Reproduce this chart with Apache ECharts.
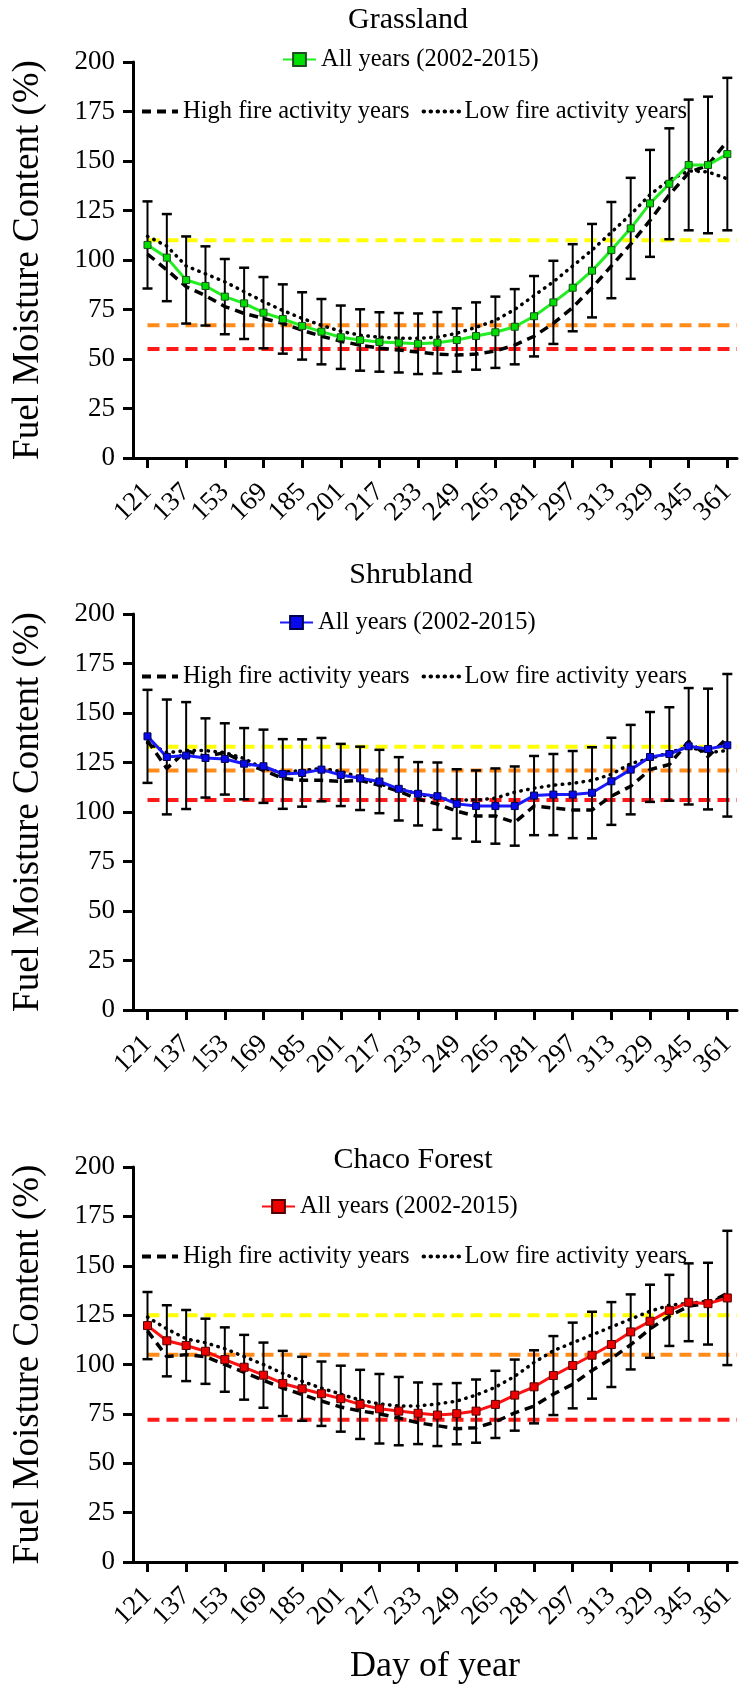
<!DOCTYPE html>
<html><head><meta charset="utf-8">
<script src="https://cdn.jsdelivr.net/npm/echarts@6/dist/echarts.min.js"></script>
<style>html,body{margin:0;padding:0;background:#fff}#c{width:739px;height:1686px}</style>
</head><body><div id="c"></div>
<script>
// ---- data ----
const days = [121,129,137,145,153,161,169,177,185,193,201,209,217,225,233,241,249,257,265,273,281,289,297,305,313,321,329,337,345,353,361];
const tickDays = [121,137,153,169,185,201,217,233,249,265,281,297,313,329,345,361];
const meanLabel = 'All years (2002-2015)';
const highLabel = 'High fire activity years';
const lowLabel = 'Low fire activity years';

const grassMean = [107.6,101.2,89.9,86.9,81.5,78.1,73.4,70.2,66.7,63.8,61.0,59.6,58.6,58.2,57.7,58.2,59.6,61.6,63.5,66.3,71.6,78.6,86.0,94.6,105.0,116.0,128.6,138.5,148.0,148.0,153.5];
const grassSD   = [22,22,22,20,19,18,18,17.5,17,16.5,16,15.5,15,15,15.3,15.5,16,17,18,19,20.3,21,22,23.6,24.3,25.5,27,28,33,34.5,38.5];
const grassHigh = [103,95,86.5,82,76.5,73,70.5,68,64.5,61.5,59,57,55.5,54.5,53.5,52.5,52,52.5,54,57,61.5,68,76,86,97,108,120,133,144,148,160];
const grassLow  = [112,107,97,93,89,84,79,74.5,70.5,67,64,62,61,60.5,60.5,61,63,66,69.5,75,82,89,97,105,114,123,133,140.5,145,144.5,141];
const grassRef  = [110,67,55];

const shrubMean = [138.2,127.8,128.5,127.3,126.8,124.4,123.1,119.2,119.7,121.4,118.7,117.0,115.4,111.7,109.2,108.0,104.1,103.0,103.0,103.0,108.3,108.8,108.8,109.7,115.5,121.4,127.8,129.3,133.2,131.8,133.7];
const shrubSD   = [23.5,29,27,20,18,18,18.5,17.6,17,16,15.7,16,16,16,16,17,17.5,18,19,20,20,20.5,22,23,22,22.6,22.7,23.6,29.4,30.5,36];
const shrubHigh = [136,122,131,128,130,125,121,117,116,116,115.5,116,113.5,110.5,106.5,104,100.4,98,98,94.7,103,102,101,101,108,113,121.4,124,135.7,128,137.5];
const shrubLow  = [135,130,131,131,130,127,122,120,121,122,120.5,117.5,114,112,109,107,106,106,107,110,112,113.5,114.5,116,119,124.5,127,130,133,130,131];
const shrubRef  = [133,121,106];

const chacoMean = [119.7,112.0,109.6,106.7,102.5,98.6,94.6,90.4,87.7,85.2,82.7,79.8,77.6,76.4,75.3,74.4,75.1,76.4,79.8,84.5,88.7,94.4,99.5,104.7,110.1,116.5,121.9,127.4,131.5,130.8,133.7];
const chacoSD   = [17,18,18,16.5,16.3,16.4,16.5,16.5,16.2,16.3,16.7,17.5,17.6,17.3,15.6,15.7,15.5,16,17,18,18.5,20,21.7,22,21.5,19,18.5,18,19.7,20.7,34];
const chacoHigh = [117,104,105,104,100,96,92,88,84.8,81.5,78.5,76.5,75,73,70.5,69,67.5,68,71,75.5,79,85,90,97,103,110,118,124.5,129.5,131,136];
const chacoLow  = [124,118,113,111,108,104,100,95.5,91.5,88,85,82,80,79,79,80,81.5,84.5,88.5,94,101,107,111,115,119,123,127,130,131,132,134];
const chacoRef  = [125,105,72];

// ---- styling / layout ----
const FONT = 'Liberation Serif';
const refColors = ['#ffff00', '#ff8c1a', '#ff1a1a'];
const panels = [
  {title:'Grassland', mean:grassMean, sd:grassSD, high:grassHigh, low:grassLow, ref:grassRef,
   line:'#22ee22', fill:'#00e000', border:'#1d4d1d', top:62, tx:408, ty:20, l1:[282,47], l2:[140,99], sym:7},
  {title:'Shrubland', mean:shrubMean, sd:shrubSD, high:shrubHigh, low:shrubLow, ref:shrubRef,
   line:'#1a1aff', fill:'#0a0aee', border:'#000050', top:614, tx:411, ty:575, l1:[279,610], l2:[140,664], sym:7},
  {title:'Chaco Forest', mean:chacoMean, sd:chacoSD, high:chacoHigh, low:chacoLow, ref:chacoRef,
   line:'#ff1010', fill:'#ee0000', border:'#500000', top:1167, tx:413, ty:1160, l1:[261,1194], l2:[140,1244], sym:8}
];
const PLOT_H = 396;

const grids = [], xAxes = [], yAxes = [], series = [], legends = [], graphics = [];
panels.forEach((p, k) => {
  grids.push({left:133, top:p.top, width:606, height:PLOT_H, containLabel:false});
  xAxes.push({
    type:'value', gridIndex:k, min:115, max:365,
    axisLine:{show:true, onZero:false, lineStyle:{color:'#000', width:3}},
    axisTick:{show:true, customValues:tickDays, length:10, lineStyle:{color:'#000', width:3}},
    axisLabel:{customValues:tickDays, rotate:45, margin:30, color:'#000', fontFamily:FONT, fontSize:27},
    splitLine:{show:false},
    name: k === 2 ? 'Day of year' : '', nameLocation:'middle', nameGap:87,
    nameTextStyle:{fontFamily:FONT, fontSize:36, color:'#000'}
  });
  yAxes.push({
    type:'value', gridIndex:k, min:0, max:200, interval:25,
    axisLine:{show:true, lineStyle:{color:'#000', width:3}},
    axisTick:{show:true, length:10, lineStyle:{color:'#000', width:3}},
    axisLabel:{margin:18, color:'#000', fontFamily:FONT, fontSize:27},
    splitLine:{show:false},
    name:'Fuel Moisture Content (%)', nameLocation:'middle', nameGap:86,
    nameTextStyle:{fontFamily:FONT, fontSize:37, color:'#000'}
  });
  // threshold lines
  p.ref.forEach((v, j) => {
    series.push({type:'line', xAxisIndex:k, yAxisIndex:k, silent:true, symbol:'none', z:1,
      data:[[121, v],[365, v]],
      lineStyle:{color:refColors[j], width:4, type:[12,7]}});
  });
  // error bars
  series.push({type:'custom', xAxisIndex:k, yAxisIndex:k, silent:true, z:2,
    data: days.map((d, i) => [d, p.mean[i], p.sd[i]]),
    encode:{x:0, y:1},
    renderItem:(params, api) => {
      const x = api.value(0), m = api.value(1), s = api.value(2);
      const t = api.coord([x, m + s]), b = api.coord([x, m - s]);
      const hw = 5, st = {stroke:'#000', lineWidth:2};
      return {type:'group', children:[
        {type:'line', shape:{x1:t[0], y1:t[1], x2:b[0], y2:b[1]}, style:st},
        {type:'line', shape:{x1:t[0]-hw, y1:t[1], x2:t[0]+hw, y2:t[1]}, style:{stroke:'#000', lineWidth:2.5}},
        {type:'line', shape:{x1:b[0]-hw, y1:b[1], x2:b[0]+hw, y2:b[1]}, style:{stroke:'#000', lineWidth:2.5}}
      ]};
    }});
  const nH = p.title + '|' + highLabel, nL = p.title + '|' + lowLabel, nM = p.title + '|' + meanLabel;
  series.push({name:nH, type:'line', xAxisIndex:k, yAxisIndex:k, symbol:'none', z:3, smooth:false,
    data: days.map((d, i) => [d, p.high[i]]),
    itemStyle:{color:'#000'},
    lineStyle:{color:'#000', width:3.5, type:[9,6]}});
  series.push({name:nL, type:'line', xAxisIndex:k, yAxisIndex:k, symbol:'none', z:3,
    data: days.map((d, i) => [d, p.low[i]]),
    itemStyle:{color:'#000'},
    lineStyle:{color:'#000', width:3.5, type:[0.5,6.5], cap:'round'}});
  series.push({name:nM, type:'line', xAxisIndex:k, yAxisIndex:k, symbol:'rect', symbolSize:p.sym, z:4,
    data: days.map((d, i) => [d, p.mean[i]]),
    itemStyle:{color:p.fill, borderColor:p.border, borderWidth:1},
    lineStyle:{color:p.line, width:3}});
  const fmt = name => name.split('|')[1];
  legends.push({data:[nM], left:p.l1[0], top:p.l1[1], padding:0, itemWidth:33, itemHeight:16,
    selectedMode:false, formatter:fmt, textStyle:{fontFamily:FONT, fontSize:24.5, color:'#000'}});
  legends.push({data:[nH, nL], left:p.l2[0], top:p.l2[1], padding:0, itemWidth:36, itemHeight:14, itemGap:12,
    selectedMode:false, formatter:fmt, itemStyle:{opacity:0}, lineStyle:{width:4},
    textStyle:{fontFamily:FONT, fontSize:24.5, color:'#000'}});
  graphics.push({type:'text', x:p.tx, y:p.ty, silent:true,
    style:{text:p.title, font:'30px "' + FONT + '"', fill:'#000', align:'center', verticalAlign:'middle'}});
});

const chart = echarts.init(document.getElementById('c'), null, {renderer:'canvas'});
chart.setOption({
  animation:false,
  backgroundColor:'#fff',
  grid:grids, xAxis:xAxes, yAxis:yAxes, series:series, legend:legends, graphic:graphics
});
</script>
</body></html>
